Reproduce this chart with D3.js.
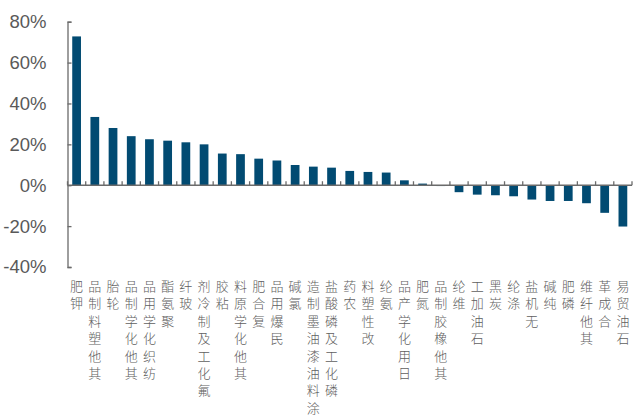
<!DOCTYPE html>
<html>
<head>
<meta charset="utf-8">
<script src="https://cdn.jsdelivr.net/npm/d3@7/dist/d3.min.js"></script>
<style>
  html, body { margin: 0; padding: 0; background: #fff; }
  svg { display: block; }
</style>
</head>
<body>
<svg id="chart" width="633" height="418"></svg>
<script>
// Industry names, ordered from largest to smallest change
const categories = [
  "钾肥", "其他塑料制品", "轮胎", "其他化学制品", "纺织化学用品", "聚氨酯", "玻纤",
  "氟化工及制冷剂", "粘胶", "其他化学原料", "复合肥", "民爆用品", "氯碱",
  "涂料油漆油墨制造", "磷化工及磷酸盐", "农药", "改性塑料", "氨纶", "日用化学产品",
  "氮肥", "其他橡胶制品", "维纶", "石油加工", "炭黑", "涤纶", "无机盐", "纯碱",
  "磷肥", "其他纤维", "合成革", "石油贸易"
];

// Change in percent for each industry
const values = [
  72.8, 33.4, 28.0, 24.0, 22.5, 21.8, 21.0,
  20.0, 15.5, 15.2, 13.0, 12.1, 9.9,
  9.1, 8.6, 7.0, 6.5, 6.2, 2.4,
  0.8, -0.4, -3.4, -4.6, -4.9, -5.4, -7.0, -7.7,
  -7.7, -8.8, -13.5, -20.2
];

// Y axis tick values (percent)
const yTicks = [-40, -20, 0, 20, 40, 60, 80];

(function draw() {
  const svg = d3.select("#chart");
  const axisColor = "#6b6b6b";
  const textColor = "#595959";
  const barColor = "#024b72";

  const plotLeft = 67.5, plotRight = 632, plotTop = 21.7, plotBottom = 267;

  const x = d3.scaleBand()
    .domain(categories)
    .range([plotLeft, plotRight])
    .paddingInner(0.52)
    .paddingOuter(0.26);

  const y = d3.scaleLinear()
    .domain([-40, 80])
    .range([plotBottom, plotTop]);

  const data = categories.map((c, i) => ({ name: c, value: values[i] }));

  // Bars
  svg.append("g")
    .selectAll("rect")
    .data(data)
    .join("rect")
    .attr("x", d => x(d.name))
    .attr("width", x.bandwidth())
    .attr("y", d => y(Math.max(0, d.value)))
    .attr("height", d => Math.abs(y(d.value) - y(0)))
    .attr("fill", barColor);

  // Y axis with inward ticks
  const yAxis = d3.axisLeft(y)
    .tickValues(yTicks)
    .tickSize(-4)
    .tickPadding(21)
    .tickFormat(d => d + "%");

  const gy = svg.append("g")
    .attr("transform", `translate(${plotLeft},0)`)
    .call(yAxis);
  gy.select(".domain").attr("stroke", axisColor).attr("stroke-width", 1.3);
  gy.selectAll(".tick line").attr("stroke", axisColor).attr("stroke-width", 1.3);
  gy.selectAll(".tick text")
    .attr("fill", textColor)
    .style("font-family", "'Liberation Sans', Arial, sans-serif")
    .style("font-size", "18.5px");

  // Zero line with category separators pointing up
  const step = x.step();
  const gx = svg.append("g");
  gx.append("line")
    .attr("x1", plotLeft).attr("x2", plotRight)
    .attr("y1", y(0)).attr("y2", y(0))
    .attr("stroke", axisColor).attr("stroke-width", 1.3);
  gx.selectAll("line.sep")
    .data(d3.range(categories.length + 1))
    .join("line")
    .attr("class", "sep")
    .attr("x1", i => plotLeft + i * step)
    .attr("x2", i => plotLeft + i * step)
    .attr("y1", y(0) - 4)
    .attr("y2", y(0))
    .attr("stroke", axisColor).attr("stroke-width", 1.3);

  // Category labels: the line is turned to read upward while each glyph
  // is turned back so the characters stay upright.
  const fontSize = 13;
  const spacing = 4.4;
  svg.append("g")
    .style("font-family", "'Noto Sans CJK SC', sans-serif")
    .style("font-size", fontSize + "px")
    .style("font-weight", 300)
    .style("letter-spacing", spacing + "px")
    .attr("fill", "#606060")
    .selectAll("text")
    .data(data)
    .join("text")
    .attr("transform", d => {
      const cx = x(d.name) + x.bandwidth() / 2 - fontSize / 2;
      return `translate(${cx},${278 - spacing}) rotate(-90)`;
    })
    .attr("text-anchor", "end")
    .attr("rotate", 90)
    .text(d => d.name);
})();
</script>
</body>
</html>
